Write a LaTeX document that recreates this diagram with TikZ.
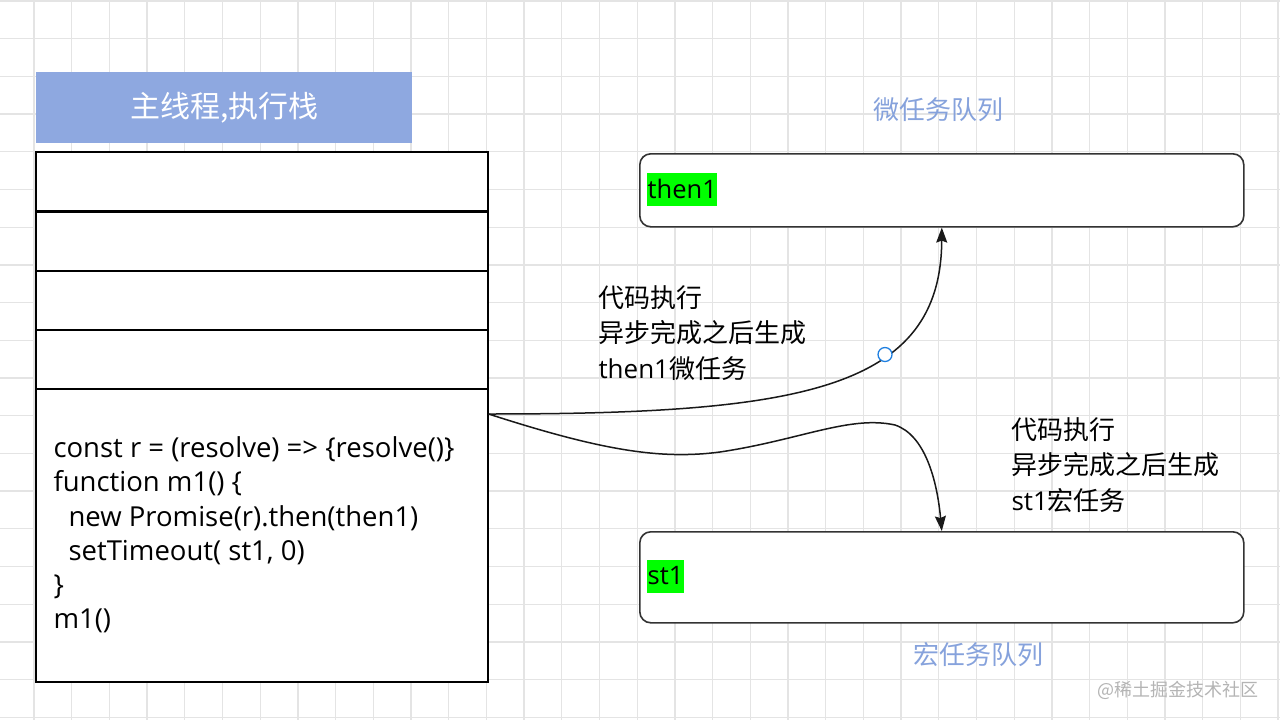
\documentclass[tikz,border=0pt]{standalone}
\usepackage{fontspec}
\setmainfont{Noto Sans CJK SC}
\newfontfamily\latinfont{Open Sans}
\usetikzlibrary{arrows.meta, positioning, calc}
\definecolor{headblue}{HTML}{8EA8E0}
\definecolor{titleblue}{HTML}{86A2DC}
\definecolor{gridgray}{HTML}{E4E4E4}
\definecolor{boxgray}{HTML}{333333}
\definecolor{taskgreen}{HTML}{00FF00}
\definecolor{handleblue}{HTML}{1E7FE0}
\definecolor{markgray}{HTML}{B4B4B4}

\begin{document}
\begin{tikzpicture}[x=1pt, y=-1pt,
    cell/.style={draw=black, fill=white, line width=1.6pt, minimum width=452pt, inner sep=0pt, anchor=north west},
    queue/.style={draw=boxgray, fill=white, line width=1.6pt, rounded corners=11pt, minimum width=604pt, inner sep=0pt, anchor=north west},
    task/.style={fill=taskgreen, inner sep=0.5pt, minimum height=33pt, anchor=west, font=\latinfont\fontsize{25.5}{28}\selectfont},
    qtitle/.style={text=titleblue, font=\fontsize{26}{30}\selectfont},
    note/.style={align=left, anchor=west, font=\fontsize{26}{35.5}\selectfont},
    flow/.style={draw=black!90, line width=1.5pt, -{Stealth[length=15pt, width=11pt, inset=2pt]}},
    handle/.style={circle, draw=handleblue, fill=white, line width=1.3pt, minimum size=14pt, inner sep=0pt}
  ]
  \useasboundingbox (0,0) rectangle (1280,720);

  % Raster im Hintergrund
  \fill[white] (0,0) rectangle (1280,720);
  \foreach \gx in {0,...,33}
    \draw[gridgray, line width=1.3pt] ({34+37.7*\gx},0) -- ++(0,720);
  \foreach \gy in {0,...,19}
    \draw[gridgray, line width=1.3pt] (0,{1+37.7*\gy}) -- ++(1280,0);

  % Kopf des Stapels
  \node[fill=headblue, minimum width=376pt, minimum height=71pt, anchor=north west, text=white, font=\fontsize{30}{34}\selectfont] (head) at (36,72) {主线程,执行栈};

  % Stapelzellen
  \foreach \i/\cy in {1/151, 2/211, 3/270, 4/329}
    \node[cell, minimum height=59pt] (cell\i) at (35,\cy) {};
  \node[cell, minimum height=293pt] (code) at (35,388) {};
  \node[anchor=west, align=left, font=\latinfont\fontsize{27.5}{34.2}\selectfont] (codetxt) at (50,535) {const r = (resolve) => \{resolve()\}\\function m1() \{\\\hspace*{15pt}new Promise(r).then(then1)\\\hspace*{15pt}setTimeout( st1, 0)\\\}\\m1()};

  % Warteschlangen
  \node[qtitle] (microtitle) at (938,110) {微任务队列};
  \node[queue, minimum height=73pt] (micro) at (639,153) {};
  \node[task] (then1) at (647,189) {then1};

  \node[queue, minimum height=91pt] (macro) at (639,531) {};
  \node[task] (st1) at (647,576) {st1};
  \node[qtitle] (macrotitle) at (978,655) {宏任务队列};

  % Beschriftungen
  \node[note] (micronote) at (595,333) {代码执行\\异步完成之后生成\\{\latinfont then1}微任务};
  \node[note] (macronote) at (1008,465) {代码执行\\异步完成之后生成\\{\latinfont st1}宏任务};

  % Verbindungen
  \coordinate (src) at ($(code.north east)+(0,26)$);
  \draw[flow] (src) .. controls (800,414) and (941,390) .. node[handle, pos=0.64] (wp) {} (micro.south);
  \draw[flow] (src) .. controls (600,450) and (660,460) .. (720,452) .. controls (800,440) and (850,415) .. (895,425) .. controls (925,435) and (937,480) .. (macro.north);

  \node[text=markgray, anchor=east, font=\fontsize{18}{20}\selectfont] (mark) at (1262,690) {@稀土掘金技术社区};
\end{tikzpicture}
\end{document}
